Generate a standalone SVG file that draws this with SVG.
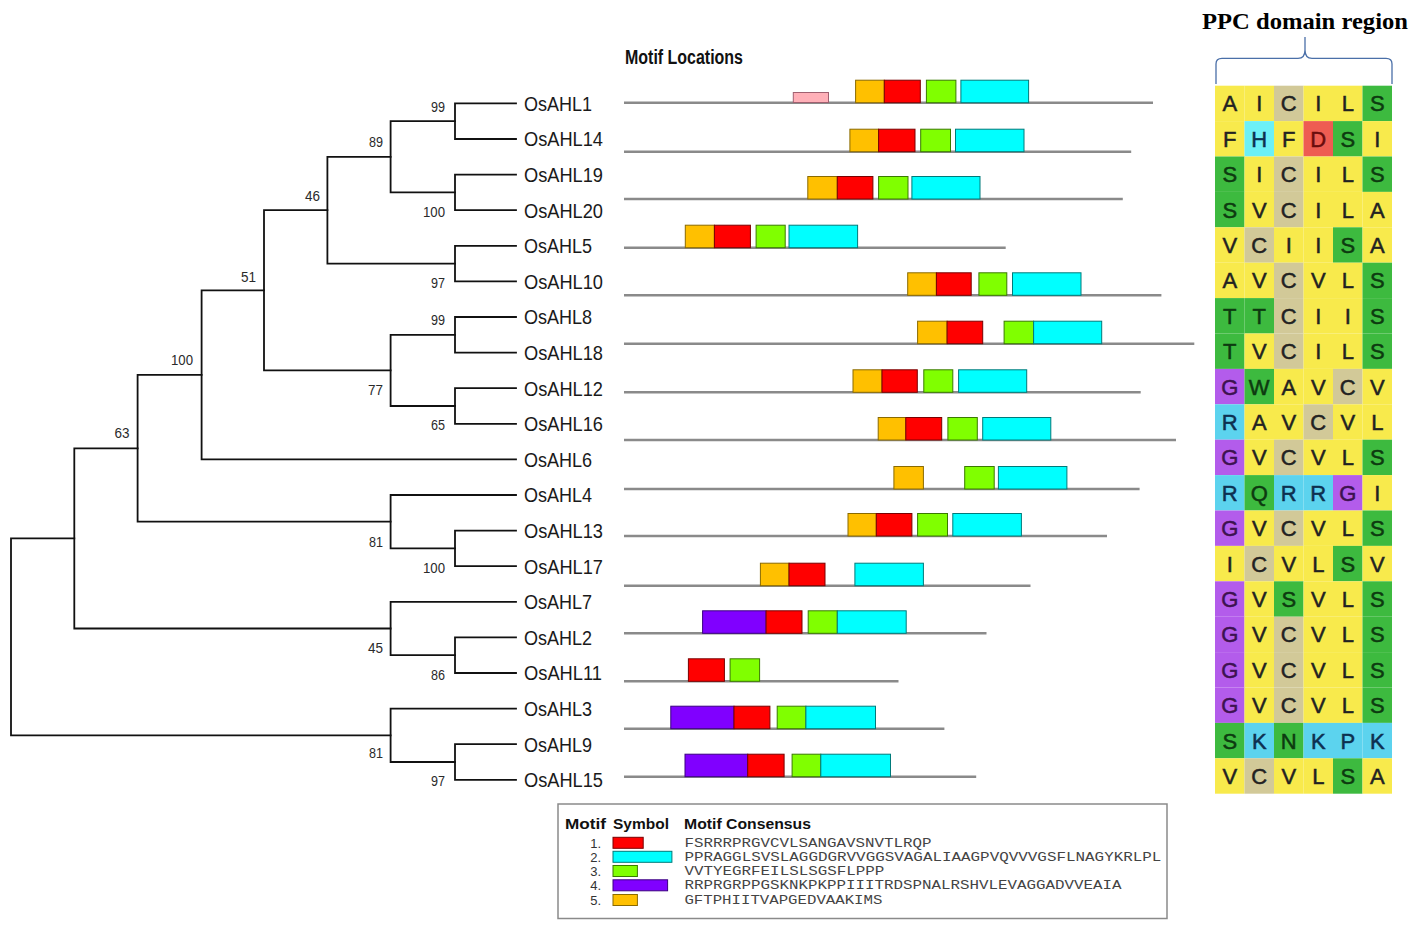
<svg xmlns="http://www.w3.org/2000/svg" width="1417" height="929" viewBox="0 0 1417 929">
<style>
.tree{fill:none;stroke:#111;stroke-width:1.8;stroke-linecap:square}
.leaf{font-family:"Liberation Sans",Arial,sans-serif;font-size:20.5px;fill:#1a1a1a}
.bs{font-family:"Liberation Sans",Arial,sans-serif;font-size:14px;fill:#2a2a2a;text-anchor:end}
.seq{stroke:#8a8a8a;stroke-width:2.6}
.mO{fill:#FFC000;stroke:#8a6a00;stroke-width:1}
.mR{fill:#FF0000;stroke:#7a0000;stroke-width:1}
.mG{fill:#80FF00;stroke:#3a7a00;stroke-width:1}
.mC{fill:#00FFFF;stroke:#007a7a;stroke-width:1}
.mP{fill:#8000FF;stroke:#3a0080;stroke-width:1}
.mK{fill:#FFB0B8;stroke:#a06070;stroke-width:1}
.title{font-family:"Liberation Sans",Arial,sans-serif;font-weight:bold;font-size:20px;fill:#111}
.ppc{font-family:"Liberation Serif","Times New Roman",serif;font-weight:bold;font-size:23.5px;fill:#000}
.cY{fill:#F8EA4C}.cT{fill:#D2C998}.cG{fill:#3DBA3F}.cP{fill:#B35CEB}.cB{fill:#5CD3EE}.cH{fill:#6CF0F6}.cD{fill:#EE5C52}
.aa{font-family:"Liberation Sans",Arial,sans-serif;font-size:22px;fill:#222;stroke:#222;stroke-width:0.5;text-anchor:middle}
.aaP{fill:#3d1250;stroke:#3d1250}.aaG{fill:#0d3a10;stroke:#0d3a10}.aaB{fill:#0d3050;stroke:#0d3050}.aaD{fill:#6a0c0c;stroke:#6a0c0c}
.lh{font-family:"Liberation Sans",Arial,sans-serif;font-weight:bold;font-size:15px;fill:#111}
.ln{font-family:"Liberation Sans",Arial,sans-serif;font-size:13px;fill:#333;text-anchor:end}
.ls{font-family:"Liberation Mono","Courier New",monospace;font-size:13px;fill:#444}
</style>

<!-- connectors: phylogenetic tree -->
<g id="tree" class="tree">
<path d="M11,538.4V735.3M11,538.4H74.3M11,735.3H390.6"/>
<path d="M74.3,448.3V628.5M74.3,448.3H137.6M74.3,628.5H390.6"/>
<path d="M137.6,374.9V521.7M137.6,374.9H201.6M137.6,521.7H390.6"/>
<path d="M201.6,290.3V459.4M201.6,290.3H264M201.6,459.4H516"/>
<path d="M264,210.2V370.4M264,210.2H327.4M264,370.4H390.6"/>
<path d="M327.4,156.8V263.6M327.4,156.8H390.6M327.4,263.6H455"/>
<path d="M390.6,121.2V192.4M390.6,121.2H455M390.6,192.4H455"/>
<path d="M390.6,334.8V406M390.6,334.8H455M390.6,406H455"/>
<path d="M390.6,495V548.4M390.6,495H516M390.6,548.4H455"/>
<path d="M390.6,601.8V655.2M390.6,601.8H516M390.6,655.2H455"/>
<path d="M390.6,708.6V762M390.6,708.6H516M390.6,762H455"/>
<path d="M455,103.4V139M455,103.4H516M455,139H516"/>
<path d="M455,174.6V210.2M455,174.6H516M455,210.2H516"/>
<path d="M455,245.8V281.4M455,245.8H516M455,281.4H516"/>
<path d="M455,317V352.6M455,317H516M455,352.6H516"/>
<path d="M455,388.2V423.8M455,388.2H516M455,423.8H516"/>
<path d="M455,530.6V566.2M455,530.6H516M455,566.2H516"/>
<path d="M455,637.4V673M455,637.4H516M455,673H516"/>
<path d="M455,744.2V779.8M455,744.2H516M455,779.8H516"/>
</g>

<g id="bootstrap">
<text class="bs" x="445" y="112" textLength="14" lengthAdjust="spacingAndGlyphs">99</text>
<text class="bs" x="383" y="146.7" textLength="14" lengthAdjust="spacingAndGlyphs">89</text>
<text class="bs" x="445" y="216.7" textLength="22" lengthAdjust="spacingAndGlyphs">100</text>
<text class="bs" x="445" y="287.7" textLength="14" lengthAdjust="spacingAndGlyphs">97</text>
<text class="bs" x="320" y="200.7" textLength="15" lengthAdjust="spacingAndGlyphs">46</text>
<text class="bs" x="445" y="325" textLength="14" lengthAdjust="spacingAndGlyphs">99</text>
<text class="bs" x="445" y="430" textLength="14" lengthAdjust="spacingAndGlyphs">65</text>
<text class="bs" x="383" y="395" textLength="15" lengthAdjust="spacingAndGlyphs">77</text>
<text class="bs" x="256" y="281.7" textLength="15" lengthAdjust="spacingAndGlyphs">51</text>
<text class="bs" x="193" y="365" textLength="22" lengthAdjust="spacingAndGlyphs">100</text>
<text class="bs" x="129.5" y="437.7" textLength="15" lengthAdjust="spacingAndGlyphs">63</text>
<text class="bs" x="383" y="546.7" textLength="14" lengthAdjust="spacingAndGlyphs">81</text>
<text class="bs" x="445" y="573.3" textLength="22" lengthAdjust="spacingAndGlyphs">100</text>
<text class="bs" x="383" y="653.3" textLength="15" lengthAdjust="spacingAndGlyphs">45</text>
<text class="bs" x="445" y="680" textLength="14" lengthAdjust="spacingAndGlyphs">86</text>
<text class="bs" x="383" y="758.3" textLength="14" lengthAdjust="spacingAndGlyphs">81</text>
<text class="bs" x="445" y="786" textLength="14" lengthAdjust="spacingAndGlyphs">97</text>
</g>

<g id="OsAHL1"><text class="leaf" x="524" y="110.8" textLength="68" lengthAdjust="spacingAndGlyphs">OsAHL1</text></g>
<g id="OsAHL14"><text class="leaf" x="524" y="146.4" textLength="79" lengthAdjust="spacingAndGlyphs">OsAHL14</text></g>
<g id="OsAHL19"><text class="leaf" x="524" y="182" textLength="79" lengthAdjust="spacingAndGlyphs">OsAHL19</text></g>
<g id="OsAHL20"><text class="leaf" x="524" y="217.6" textLength="79" lengthAdjust="spacingAndGlyphs">OsAHL20</text></g>
<g id="OsAHL5"><text class="leaf" x="524" y="253.2" textLength="68" lengthAdjust="spacingAndGlyphs">OsAHL5</text></g>
<g id="OsAHL10"><text class="leaf" x="524" y="288.8" textLength="79" lengthAdjust="spacingAndGlyphs">OsAHL10</text></g>
<g id="OsAHL8"><text class="leaf" x="524" y="324.4" textLength="68" lengthAdjust="spacingAndGlyphs">OsAHL8</text></g>
<g id="OsAHL18"><text class="leaf" x="524" y="360" textLength="79" lengthAdjust="spacingAndGlyphs">OsAHL18</text></g>
<g id="OsAHL12"><text class="leaf" x="524" y="395.6" textLength="79" lengthAdjust="spacingAndGlyphs">OsAHL12</text></g>
<g id="OsAHL16"><text class="leaf" x="524" y="431.2" textLength="79" lengthAdjust="spacingAndGlyphs">OsAHL16</text></g>
<g id="OsAHL6"><text class="leaf" x="524" y="466.8" textLength="68" lengthAdjust="spacingAndGlyphs">OsAHL6</text></g>
<g id="OsAHL4"><text class="leaf" x="524" y="502.4" textLength="68" lengthAdjust="spacingAndGlyphs">OsAHL4</text></g>
<g id="OsAHL13"><text class="leaf" x="524" y="538" textLength="79" lengthAdjust="spacingAndGlyphs">OsAHL13</text></g>
<g id="OsAHL17"><text class="leaf" x="524" y="573.6" textLength="79" lengthAdjust="spacingAndGlyphs">OsAHL17</text></g>
<g id="OsAHL7"><text class="leaf" x="524" y="609.2" textLength="68" lengthAdjust="spacingAndGlyphs">OsAHL7</text></g>
<g id="OsAHL2"><text class="leaf" x="524" y="644.8" textLength="68" lengthAdjust="spacingAndGlyphs">OsAHL2</text></g>
<g id="OsAHL11"><text class="leaf" x="524" y="680.4" textLength="78" lengthAdjust="spacingAndGlyphs">OsAHL11</text></g>
<g id="OsAHL3"><text class="leaf" x="524" y="716" textLength="68" lengthAdjust="spacingAndGlyphs">OsAHL3</text></g>
<g id="OsAHL9"><text class="leaf" x="524" y="751.6" textLength="68" lengthAdjust="spacingAndGlyphs">OsAHL9</text></g>
<g id="OsAHL15"><text class="leaf" x="524" y="787.2" textLength="79" lengthAdjust="spacingAndGlyphs">OsAHL15</text></g>

<!-- Motif locations -->
<text class="title" x="625" y="64" textLength="118" lengthAdjust="spacingAndGlyphs">Motif Locations</text>

<g id="motif-row1"><line class="seq" x1="624" y1="102.7" x2="1153" y2="102.7"/>
<rect class="mK" x="793.3" y="92.5" width="35.2" height="10"/>
<rect class="mO" x="855.6" y="80.2" width="28.7" height="22.5"/><rect class="mR" x="884.3" y="80.2" width="36" height="22.5"/><rect class="mG" x="926.4" y="80.2" width="29.5" height="22.5"/><rect class="mC" x="960.9" y="80.2" width="67.7" height="22.5"/></g>
<g id="motif-row2"><line class="seq" x1="624" y1="151.7" x2="1131.2" y2="151.7"/>
<rect class="mO" x="849.9" y="129.2" width="28.7" height="22.5"/><rect class="mR" x="878.6" y="129.2" width="36.4" height="22.5"/><rect class="mG" x="920.7" y="129.2" width="29.8" height="22.5"/><rect class="mC" x="955.5" y="129.2" width="68.5" height="22.5"/></g>
<g id="motif-row3"><line class="seq" x1="624" y1="199" x2="1122.8" y2="199"/>
<rect class="mO" x="807.8" y="176.5" width="29.5" height="22.5"/><rect class="mR" x="837.3" y="176.5" width="35.6" height="22.5"/><rect class="mG" x="878.6" y="176.5" width="29.4" height="22.5"/><rect class="mC" x="911.9" y="176.5" width="68.1" height="22.5"/></g>
<g id="motif-row4"><line class="seq" x1="624" y1="247.7" x2="1005.7" y2="247.7"/>
<rect class="mO" x="685.3" y="225.2" width="29.1" height="22.5"/><rect class="mR" x="714.4" y="225.2" width="36" height="22.5"/><rect class="mG" x="756.1" y="225.2" width="29.1" height="22.5"/><rect class="mC" x="789" y="225.2" width="68.6" height="22.5"/></g>
<g id="motif-row5"><line class="seq" x1="624" y1="295.3" x2="1161.4" y2="295.3"/>
<rect class="mO" x="907.7" y="272.8" width="28.7" height="22.5"/><rect class="mR" x="936.4" y="272.8" width="34.8" height="22.5"/><rect class="mG" x="978.9" y="272.8" width="27.9" height="22.5"/><rect class="mC" x="1012.5" y="272.8" width="68.5" height="22.5"/></g>
<g id="motif-row6"><line class="seq" x1="624" y1="343.7" x2="1194.3" y2="343.7"/>
<rect class="mO" x="917.6" y="321.2" width="29.5" height="22.5"/><rect class="mR" x="947.1" y="321.2" width="35.6" height="22.5"/><rect class="mG" x="1004.1" y="321.2" width="29.5" height="22.5"/><rect class="mC" x="1033.6" y="321.2" width="68.1" height="22.5"/></g>
<g id="motif-row7"><line class="seq" x1="624" y1="392.3" x2="1140.7" y2="392.3"/>
<rect class="mO" x="853" y="369.8" width="29" height="22.5"/><rect class="mR" x="882" y="369.8" width="35.3" height="22.5"/><rect class="mG" x="923.8" y="369.8" width="29" height="22.5"/><rect class="mC" x="958.6" y="369.8" width="68.1" height="22.5"/></g>
<g id="motif-row8"><line class="seq" x1="624" y1="440" x2="1176" y2="440"/>
<rect class="mO" x="878.2" y="417.5" width="27.6" height="22.5"/><rect class="mR" x="905.8" y="417.5" width="35.9" height="22.5"/><rect class="mG" x="947.9" y="417.5" width="29.4" height="22.5"/><rect class="mC" x="982.7" y="417.5" width="68.1" height="22.5"/></g>
<g id="motif-row9"><line class="seq" x1="624" y1="489" x2="1139.6" y2="489"/>
<rect class="mO" x="893.9" y="466.5" width="29.5" height="22.5"/><rect class="mG" x="964.7" y="466.5" width="29.5" height="22.5"/><rect class="mC" x="998.4" y="466.5" width="68.5" height="22.5"/></g>
<g id="motif-row10"><line class="seq" x1="624" y1="536" x2="1107" y2="536"/>
<rect class="mO" x="848" y="513.5" width="28.3" height="22.5"/><rect class="mR" x="876.3" y="513.5" width="35.6" height="22.5"/><rect class="mG" x="917.6" y="513.5" width="29.9" height="22.5"/><rect class="mC" x="952.8" y="513.5" width="68.6" height="22.5"/></g>
<g id="motif-row11"><line class="seq" x1="624" y1="585.7" x2="1030.5" y2="585.7"/>
<rect class="mO" x="760.4" y="563.2" width="28.6" height="22.5"/><rect class="mR" x="789" y="563.2" width="36" height="22.5"/><rect class="mC" x="854.9" y="563.2" width="68.5" height="22.5"/></g>
<g id="motif-row12"><line class="seq" x1="624" y1="633.3" x2="986.5" y2="633.3"/>
<rect class="mP" x="702.6" y="610.8" width="63.5" height="22.5"/><rect class="mR" x="766.1" y="610.8" width="35.9" height="22.5"/><rect class="mG" x="808.2" y="610.8" width="29.1" height="22.5"/><rect class="mC" x="837.3" y="610.8" width="68.9" height="22.5"/></g>
<g id="motif-row13"><line class="seq" x1="624" y1="681.3" x2="898.5" y2="681.3"/>
<rect class="mR" x="688.4" y="658.8" width="36" height="22.5"/><rect class="mG" x="730.1" y="658.8" width="29.5" height="22.5"/></g>
<g id="motif-row14"><line class="seq" x1="624" y1="728.7" x2="944.4" y2="728.7"/>
<rect class="mP" x="670.8" y="706.2" width="63.2" height="22.5"/><rect class="mR" x="734" y="706.2" width="35.9" height="22.5"/><rect class="mG" x="777.2" y="706.2" width="28.7" height="22.5"/><rect class="mC" x="805.9" y="706.2" width="69.6" height="22.5"/></g>
<g id="motif-row15"><line class="seq" x1="624" y1="776.7" x2="976.2" y2="776.7"/>
<rect class="mP" x="685" y="754.2" width="62.7" height="22.5"/><rect class="mR" x="747.7" y="754.2" width="36.4" height="22.5"/><rect class="mG" x="792.1" y="754.2" width="28.7" height="22.5"/><rect class="mC" x="820.8" y="754.2" width="69.7" height="22.5"/></g>

<!-- PPC domain region -->
<text class="ppc" x="1202" y="29" textLength="206" lengthAdjust="spacingAndGlyphs">PPC domain region</text>
<path d="M1216,84V64Q1216,58.3 1222,58.3H1298Q1305,58.3 1305,50Q1305,58.3 1312,58.3H1386Q1392,58.3 1392,64V84M1305,50V37" fill="none" stroke="#4a6fa8" stroke-width="1.3"/>

<g id="alignment">
<g id="aln-row1"><rect class="cY" x="1215" y="85.7" width="29.5" height="35.4"/><rect class="cY" x="1244.5" y="85.7" width="29.5" height="35.4"/><rect class="cT" x="1274" y="85.7" width="29.5" height="35.4"/><rect class="cY" x="1303.5" y="85.7" width="29.5" height="35.4"/><rect class="cY" x="1333" y="85.7" width="29.5" height="35.4"/><rect class="cG" x="1362.5" y="85.7" width="29.5" height="35.4"/>
<text class="aa" y="111.3"><tspan x="1229.75">A</tspan><tspan x="1259.25">I</tspan><tspan x="1288.75">C</tspan><tspan x="1318.25">I</tspan><tspan x="1347.75">L</tspan><tspan x="1377.25" class="aaG">S</tspan></text></g>
<g id="aln-row2"><rect class="cY" x="1215" y="121.1" width="29.5" height="35.4"/><rect class="cH" x="1244.5" y="121.1" width="29.5" height="35.4"/><rect class="cY" x="1274" y="121.1" width="29.5" height="35.4"/><rect class="cD" x="1303.5" y="121.1" width="29.5" height="35.4"/><rect class="cG" x="1333" y="121.1" width="29.5" height="35.4"/><rect class="cY" x="1362.5" y="121.1" width="29.5" height="35.4"/>
<text class="aa" y="146.7"><tspan x="1229.75">F</tspan><tspan x="1259.25" class="aaB">H</tspan><tspan x="1288.75">F</tspan><tspan x="1318.25" class="aaD">D</tspan><tspan x="1347.75" class="aaG">S</tspan><tspan x="1377.25">I</tspan></text></g>
<g id="aln-row3"><rect class="cG" x="1215" y="156.5" width="29.5" height="35.4"/><rect class="cY" x="1244.5" y="156.5" width="29.5" height="35.4"/><rect class="cT" x="1274" y="156.5" width="29.5" height="35.4"/><rect class="cY" x="1303.5" y="156.5" width="29.5" height="35.4"/><rect class="cY" x="1333" y="156.5" width="29.5" height="35.4"/><rect class="cG" x="1362.5" y="156.5" width="29.5" height="35.4"/>
<text class="aa" y="182.1"><tspan x="1229.75" class="aaG">S</tspan><tspan x="1259.25">I</tspan><tspan x="1288.75">C</tspan><tspan x="1318.25">I</tspan><tspan x="1347.75">L</tspan><tspan x="1377.25" class="aaG">S</tspan></text></g>
<g id="aln-row4"><rect class="cG" x="1215" y="191.9" width="29.5" height="35.4"/><rect class="cY" x="1244.5" y="191.9" width="29.5" height="35.4"/><rect class="cT" x="1274" y="191.9" width="29.5" height="35.4"/><rect class="cY" x="1303.5" y="191.9" width="29.5" height="35.4"/><rect class="cY" x="1333" y="191.9" width="29.5" height="35.4"/><rect class="cY" x="1362.5" y="191.9" width="29.5" height="35.4"/>
<text class="aa" y="217.5"><tspan x="1229.75" class="aaG">S</tspan><tspan x="1259.25">V</tspan><tspan x="1288.75">C</tspan><tspan x="1318.25">I</tspan><tspan x="1347.75">L</tspan><tspan x="1377.25">A</tspan></text></g>
<g id="aln-row5"><rect class="cY" x="1215" y="227.3" width="29.5" height="35.4"/><rect class="cT" x="1244.5" y="227.3" width="29.5" height="35.4"/><rect class="cY" x="1274" y="227.3" width="29.5" height="35.4"/><rect class="cY" x="1303.5" y="227.3" width="29.5" height="35.4"/><rect class="cG" x="1333" y="227.3" width="29.5" height="35.4"/><rect class="cY" x="1362.5" y="227.3" width="29.5" height="35.4"/>
<text class="aa" y="252.9"><tspan x="1229.75">V</tspan><tspan x="1259.25">C</tspan><tspan x="1288.75">I</tspan><tspan x="1318.25">I</tspan><tspan x="1347.75" class="aaG">S</tspan><tspan x="1377.25">A</tspan></text></g>
<g id="aln-row6"><rect class="cY" x="1215" y="262.7" width="29.5" height="35.4"/><rect class="cY" x="1244.5" y="262.7" width="29.5" height="35.4"/><rect class="cT" x="1274" y="262.7" width="29.5" height="35.4"/><rect class="cY" x="1303.5" y="262.7" width="29.5" height="35.4"/><rect class="cY" x="1333" y="262.7" width="29.5" height="35.4"/><rect class="cG" x="1362.5" y="262.7" width="29.5" height="35.4"/>
<text class="aa" y="288.3"><tspan x="1229.75">A</tspan><tspan x="1259.25">V</tspan><tspan x="1288.75">C</tspan><tspan x="1318.25">V</tspan><tspan x="1347.75">L</tspan><tspan x="1377.25" class="aaG">S</tspan></text></g>
<g id="aln-row7"><rect class="cG" x="1215" y="298.1" width="29.5" height="35.4"/><rect class="cG" x="1244.5" y="298.1" width="29.5" height="35.4"/><rect class="cT" x="1274" y="298.1" width="29.5" height="35.4"/><rect class="cY" x="1303.5" y="298.1" width="29.5" height="35.4"/><rect class="cY" x="1333" y="298.1" width="29.5" height="35.4"/><rect class="cG" x="1362.5" y="298.1" width="29.5" height="35.4"/>
<text class="aa" y="323.7"><tspan x="1229.75" class="aaG">T</tspan><tspan x="1259.25" class="aaG">T</tspan><tspan x="1288.75">C</tspan><tspan x="1318.25">I</tspan><tspan x="1347.75">I</tspan><tspan x="1377.25" class="aaG">S</tspan></text></g>
<g id="aln-row8"><rect class="cG" x="1215" y="333.5" width="29.5" height="35.4"/><rect class="cY" x="1244.5" y="333.5" width="29.5" height="35.4"/><rect class="cT" x="1274" y="333.5" width="29.5" height="35.4"/><rect class="cY" x="1303.5" y="333.5" width="29.5" height="35.4"/><rect class="cY" x="1333" y="333.5" width="29.5" height="35.4"/><rect class="cG" x="1362.5" y="333.5" width="29.5" height="35.4"/>
<text class="aa" y="359.1"><tspan x="1229.75" class="aaG">T</tspan><tspan x="1259.25">V</tspan><tspan x="1288.75">C</tspan><tspan x="1318.25">I</tspan><tspan x="1347.75">L</tspan><tspan x="1377.25" class="aaG">S</tspan></text></g>
<g id="aln-row9"><rect class="cP" x="1215" y="368.9" width="29.5" height="35.4"/><rect class="cG" x="1244.5" y="368.9" width="29.5" height="35.4"/><rect class="cY" x="1274" y="368.9" width="29.5" height="35.4"/><rect class="cY" x="1303.5" y="368.9" width="29.5" height="35.4"/><rect class="cT" x="1333" y="368.9" width="29.5" height="35.4"/><rect class="cY" x="1362.5" y="368.9" width="29.5" height="35.4"/>
<text class="aa" y="394.5"><tspan x="1229.75" class="aaP">G</tspan><tspan x="1259.25" class="aaG">W</tspan><tspan x="1288.75">A</tspan><tspan x="1318.25">V</tspan><tspan x="1347.75">C</tspan><tspan x="1377.25">V</tspan></text></g>
<g id="aln-row10"><rect class="cB" x="1215" y="404.3" width="29.5" height="35.4"/><rect class="cY" x="1244.5" y="404.3" width="29.5" height="35.4"/><rect class="cY" x="1274" y="404.3" width="29.5" height="35.4"/><rect class="cT" x="1303.5" y="404.3" width="29.5" height="35.4"/><rect class="cY" x="1333" y="404.3" width="29.5" height="35.4"/><rect class="cY" x="1362.5" y="404.3" width="29.5" height="35.4"/>
<text class="aa" y="429.9"><tspan x="1229.75" class="aaB">R</tspan><tspan x="1259.25">A</tspan><tspan x="1288.75">V</tspan><tspan x="1318.25">C</tspan><tspan x="1347.75">V</tspan><tspan x="1377.25">L</tspan></text></g>
<g id="aln-row11"><rect class="cP" x="1215" y="439.7" width="29.5" height="35.4"/><rect class="cY" x="1244.5" y="439.7" width="29.5" height="35.4"/><rect class="cT" x="1274" y="439.7" width="29.5" height="35.4"/><rect class="cY" x="1303.5" y="439.7" width="29.5" height="35.4"/><rect class="cY" x="1333" y="439.7" width="29.5" height="35.4"/><rect class="cG" x="1362.5" y="439.7" width="29.5" height="35.4"/>
<text class="aa" y="465.3"><tspan x="1229.75" class="aaP">G</tspan><tspan x="1259.25">V</tspan><tspan x="1288.75">C</tspan><tspan x="1318.25">V</tspan><tspan x="1347.75">L</tspan><tspan x="1377.25" class="aaG">S</tspan></text></g>
<g id="aln-row12"><rect class="cB" x="1215" y="475.1" width="29.5" height="35.4"/><rect class="cG" x="1244.5" y="475.1" width="29.5" height="35.4"/><rect class="cB" x="1274" y="475.1" width="29.5" height="35.4"/><rect class="cB" x="1303.5" y="475.1" width="29.5" height="35.4"/><rect class="cP" x="1333" y="475.1" width="29.5" height="35.4"/><rect class="cY" x="1362.5" y="475.1" width="29.5" height="35.4"/>
<text class="aa" y="500.7"><tspan x="1229.75" class="aaB">R</tspan><tspan x="1259.25" class="aaG">Q</tspan><tspan x="1288.75" class="aaB">R</tspan><tspan x="1318.25" class="aaB">R</tspan><tspan x="1347.75" class="aaP">G</tspan><tspan x="1377.25">I</tspan></text></g>
<g id="aln-row13"><rect class="cP" x="1215" y="510.5" width="29.5" height="35.4"/><rect class="cY" x="1244.5" y="510.5" width="29.5" height="35.4"/><rect class="cT" x="1274" y="510.5" width="29.5" height="35.4"/><rect class="cY" x="1303.5" y="510.5" width="29.5" height="35.4"/><rect class="cY" x="1333" y="510.5" width="29.5" height="35.4"/><rect class="cG" x="1362.5" y="510.5" width="29.5" height="35.4"/>
<text class="aa" y="536.1"><tspan x="1229.75" class="aaP">G</tspan><tspan x="1259.25">V</tspan><tspan x="1288.75">C</tspan><tspan x="1318.25">V</tspan><tspan x="1347.75">L</tspan><tspan x="1377.25" class="aaG">S</tspan></text></g>
<g id="aln-row14"><rect class="cY" x="1215" y="545.9" width="29.5" height="35.4"/><rect class="cT" x="1244.5" y="545.9" width="29.5" height="35.4"/><rect class="cY" x="1274" y="545.9" width="29.5" height="35.4"/><rect class="cY" x="1303.5" y="545.9" width="29.5" height="35.4"/><rect class="cG" x="1333" y="545.9" width="29.5" height="35.4"/><rect class="cY" x="1362.5" y="545.9" width="29.5" height="35.4"/>
<text class="aa" y="571.5"><tspan x="1229.75">I</tspan><tspan x="1259.25">C</tspan><tspan x="1288.75">V</tspan><tspan x="1318.25">L</tspan><tspan x="1347.75" class="aaG">S</tspan><tspan x="1377.25">V</tspan></text></g>
<g id="aln-row15"><rect class="cP" x="1215" y="581.3" width="29.5" height="35.4"/><rect class="cY" x="1244.5" y="581.3" width="29.5" height="35.4"/><rect class="cG" x="1274" y="581.3" width="29.5" height="35.4"/><rect class="cY" x="1303.5" y="581.3" width="29.5" height="35.4"/><rect class="cY" x="1333" y="581.3" width="29.5" height="35.4"/><rect class="cG" x="1362.5" y="581.3" width="29.5" height="35.4"/>
<text class="aa" y="606.9"><tspan x="1229.75" class="aaP">G</tspan><tspan x="1259.25">V</tspan><tspan x="1288.75" class="aaG">S</tspan><tspan x="1318.25">V</tspan><tspan x="1347.75">L</tspan><tspan x="1377.25" class="aaG">S</tspan></text></g>
<g id="aln-row16"><rect class="cP" x="1215" y="616.7" width="29.5" height="35.4"/><rect class="cY" x="1244.5" y="616.7" width="29.5" height="35.4"/><rect class="cT" x="1274" y="616.7" width="29.5" height="35.4"/><rect class="cY" x="1303.5" y="616.7" width="29.5" height="35.4"/><rect class="cY" x="1333" y="616.7" width="29.5" height="35.4"/><rect class="cG" x="1362.5" y="616.7" width="29.5" height="35.4"/>
<text class="aa" y="642.3"><tspan x="1229.75" class="aaP">G</tspan><tspan x="1259.25">V</tspan><tspan x="1288.75">C</tspan><tspan x="1318.25">V</tspan><tspan x="1347.75">L</tspan><tspan x="1377.25" class="aaG">S</tspan></text></g>
<g id="aln-row17"><rect class="cP" x="1215" y="652.1" width="29.5" height="35.4"/><rect class="cY" x="1244.5" y="652.1" width="29.5" height="35.4"/><rect class="cT" x="1274" y="652.1" width="29.5" height="35.4"/><rect class="cY" x="1303.5" y="652.1" width="29.5" height="35.4"/><rect class="cY" x="1333" y="652.1" width="29.5" height="35.4"/><rect class="cG" x="1362.5" y="652.1" width="29.5" height="35.4"/>
<text class="aa" y="677.7"><tspan x="1229.75" class="aaP">G</tspan><tspan x="1259.25">V</tspan><tspan x="1288.75">C</tspan><tspan x="1318.25">V</tspan><tspan x="1347.75">L</tspan><tspan x="1377.25" class="aaG">S</tspan></text></g>
<g id="aln-row18"><rect class="cP" x="1215" y="687.5" width="29.5" height="35.4"/><rect class="cY" x="1244.5" y="687.5" width="29.5" height="35.4"/><rect class="cT" x="1274" y="687.5" width="29.5" height="35.4"/><rect class="cY" x="1303.5" y="687.5" width="29.5" height="35.4"/><rect class="cY" x="1333" y="687.5" width="29.5" height="35.4"/><rect class="cG" x="1362.5" y="687.5" width="29.5" height="35.4"/>
<text class="aa" y="713.1"><tspan x="1229.75" class="aaP">G</tspan><tspan x="1259.25">V</tspan><tspan x="1288.75">C</tspan><tspan x="1318.25">V</tspan><tspan x="1347.75">L</tspan><tspan x="1377.25" class="aaG">S</tspan></text></g>
<g id="aln-row19"><rect class="cG" x="1215" y="722.9" width="29.5" height="35.4"/><rect class="cB" x="1244.5" y="722.9" width="29.5" height="35.4"/><rect class="cG" x="1274" y="722.9" width="29.5" height="35.4"/><rect class="cB" x="1303.5" y="722.9" width="29.5" height="35.4"/><rect class="cB" x="1333" y="722.9" width="29.5" height="35.4"/><rect class="cB" x="1362.5" y="722.9" width="29.5" height="35.4"/>
<text class="aa" y="748.5"><tspan x="1229.75" class="aaG">S</tspan><tspan x="1259.25" class="aaB">K</tspan><tspan x="1288.75" class="aaG">N</tspan><tspan x="1318.25" class="aaB">K</tspan><tspan x="1347.75" class="aaB">P</tspan><tspan x="1377.25" class="aaB">K</tspan></text></g>
<g id="aln-row20"><rect class="cY" x="1215" y="758.3" width="29.5" height="35.4"/><rect class="cT" x="1244.5" y="758.3" width="29.5" height="35.4"/><rect class="cY" x="1274" y="758.3" width="29.5" height="35.4"/><rect class="cY" x="1303.5" y="758.3" width="29.5" height="35.4"/><rect class="cG" x="1333" y="758.3" width="29.5" height="35.4"/><rect class="cY" x="1362.5" y="758.3" width="29.5" height="35.4"/>
<text class="aa" y="783.9"><tspan x="1229.75">V</tspan><tspan x="1259.25">C</tspan><tspan x="1288.75">V</tspan><tspan x="1318.25">L</tspan><tspan x="1347.75" class="aaG">S</tspan><tspan x="1377.25">A</tspan></text></g>
</g>

<!-- Legend -->
<g id="legend">
<rect x="558" y="804" width="609" height="114.5" fill="#fff" stroke="#8a8a8a" stroke-width="1.5"/>
<text class="lh" x="565" y="829" textLength="41" lengthAdjust="spacingAndGlyphs">Motif</text>
<text class="lh" x="613" y="829" textLength="56" lengthAdjust="spacingAndGlyphs">Symbol</text>
<text class="lh" x="684" y="829" textLength="127" lengthAdjust="spacingAndGlyphs">Motif Consensus</text>
<text class="ln" x="601" y="847.5">1.</text><rect class="mR" x="613" y="837.3" width="30.2" height="11"/><text class="ls" x="684.4" y="846.7" textLength="247" lengthAdjust="spacingAndGlyphs">FSRRRPRGVCVLSANGAVSNVTLRQP</text>
<text class="ln" x="601" y="861.5">2.</text><rect class="mC" x="613" y="851.3" width="58.9" height="11"/><text class="ls" x="684.4" y="860.7" textLength="477" lengthAdjust="spacingAndGlyphs">PPRAGGLSVSLAGGDGRVVGGSVAGALIAAGPVQVVVGSFLNAGYKRLPL</text>
<text class="ln" x="601" y="875.8">3.</text><rect class="mG" x="613" y="865.5" width="24.4" height="11"/><text class="ls" x="684.4" y="875" textLength="200" lengthAdjust="spacingAndGlyphs">VVTYEGRFEILSLSGSFLPPP</text>
<text class="ln" x="601" y="890.1">4.</text><rect class="mP" x="613" y="879.8" width="54.6" height="11"/><text class="ls" x="684.4" y="889.3" textLength="437" lengthAdjust="spacingAndGlyphs">RRPRGRPPGSKNKPKPPIIITRDSPNALRSHVLEVAGGADVVEAIA</text>
<text class="ln" x="601" y="904.5">5.</text><rect class="mO" x="613" y="894.5" width="24.4" height="11"/><text class="ls" x="684.4" y="904" textLength="198" lengthAdjust="spacingAndGlyphs">GFTPHIITVAPGEDVAAKIMS</text>
</g>
</svg>
